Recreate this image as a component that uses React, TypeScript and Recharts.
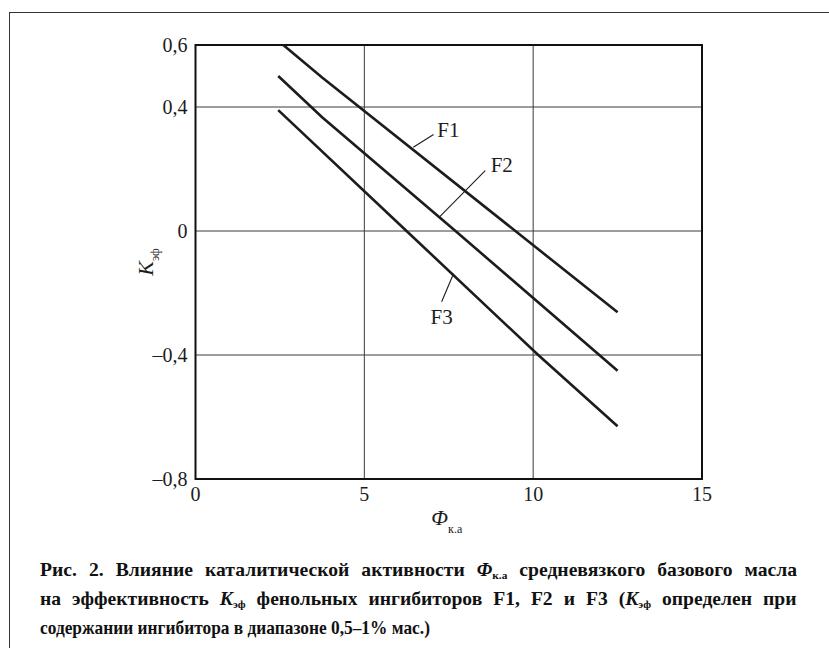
import React, { useLayoutEffect, useRef, useState } from "react";
import {
  LineChart,
  Line,
  XAxis,
  YAxis,
  CartesianGrid,
  ReferenceArea,
  ReferenceLine,
  ReferenceDot,
} from "recharts";

// axis ticks
const xTicks = [0, 5, 10, 15];
const yTicks = [-0.8, -0.4, 0, 0.4, 0.6];

// curves (Ф к.а -> K эф)
const f1 = [
  { x: 2.6, y: 0.6 },
  { x: 3.75, y: 0.495 },
  { x: 12.5, y: -0.262 },
];
const f2 = [
  { x: 2.45, y: 0.5 },
  { x: 3.75, y: 0.367 },
  { x: 7.7, y: 0 },
  { x: 12.5, y: -0.451 },
];
const f3 = [
  { x: 2.45, y: 0.39 },
  { x: 6.25, y: 0 },
  { x: 10.15, y: -0.4 },
  { x: 12.5, y: -0.63 },
];

const seriesNames = ["F1", "F2", "F3"];
const seriesData = [f1, f2, f3];

// curve labels and their leader lines
const labelPos = [
  { x: 7.49, y: 0.327 },
  { x: 9.07, y: 0.214 },
  { x: 7.29, y: -0.277 },
];
const leaders = [
  [{ x: 6.45, y: 0.27 }, { x: 7.05, y: 0.311 }],
  [{ x: 7.22, y: 0.045 }, { x: 8.58, y: 0.195 }],
  [{ x: 7.64, y: -0.138 }, { x: 7.29, y: -0.228 }],
];

const serif = "'Liberation Serif', 'Times New Roman', serif";
const ink = "#1c1c1c";

const fmt = (v: number) => {
  const s = Math.abs(v) < 1e-9 ? "0" : Math.abs(v).toFixed(1).replace(".", ",");
  return v < -1e-9 ? "\u2013" + s : s;
};

function XTitle(props: any) {
  const vb = props.viewBox || {};
  const cx = vb.x + vb.width / 2 - 2;
  return (
    <text x={cx} y={525} fontFamily={serif} fill={ink} textAnchor="middle">
      <tspan fontStyle="italic" fontSize={22}>Φ</tspan>
      <tspan fontSize={12} dy={8}>к.а</tspan>
    </text>
  );
}

function YTitle(props: any) {
  const vb = props.viewBox || {};
  const x = 153;
  const y = vb.y + vb.height / 2;
  return (
    <text
      x={x}
      y={y}
      transform={`rotate(-90, ${x}, ${y})`}
      fontFamily={serif}
      fill={ink}
      textAnchor="middle"
    >
      <tspan fontStyle="italic" fontSize={22}>K</tspan>
      <tspan fontSize={12} dy={6}>эф</tspan>
    </text>
  );
}

const Sub = ({ main, sub }: { main: string; sub: string }) => (
  <span>
    <i>{main}</i>
    <sub style={{ fontSize: 11, verticalAlign: "-3px" }}>{sub}</sub>
  </span>
);

const CAPTION_W = 757;

// the caption is set in a condensed face; squeeze each line and spread the words
function Caption() {
  const refs = [useRef<HTMLSpanElement>(null), useRef<HTMLSpanElement>(null), useRef<HTMLSpanElement>(null)];
  const [fit, setFit] = useState([
    { s: 1, ws: 0 },
    { s: 1, ws: 0 },
    { s: 1, ws: 0 },
  ]);
  useLayoutEffect(() => {
    const w = refs.map((r) => (r.current ? r.current.offsetWidth : 600));
    const s1 = 700 / w[0];
    const s2 = 690 / w[1];
    const s3 = 390 / w[2];
    setFit([
      { s: s1, ws: (CAPTION_W / s1 - w[0]) / 8 },
      { s: s2, ws: (CAPTION_W / s2 - w[1]) / 11 },
      { s: s3, ws: 0 },
    ]);
  }, []);
  const st = (i: number): React.CSSProperties => ({
    display: "inline-block",
    transform: `scaleX(${fit[i].s})`,
    transformOrigin: "0 0",
    wordSpacing: fit[i].ws,
  });
  return (
    <div
      style={{
        position: "absolute",
        left: 40,
        top: 558,
        fontFamily: serif,
        fontWeight: "bold",
        fontSize: 19,
        lineHeight: "24px",
        color: "#111",
        whiteSpace: "nowrap",
      }}
    >
      <div>
        <span ref={refs[0]} style={st(0)}>
          Рис. 2. Влияние каталитической активности <Sub main="Φ" sub="к.а" /> средневязкого базового масла
        </span>
      </div>
      <div>
        <span ref={refs[1]} style={st(1)}>
          на эффективность <Sub main="K" sub="эф" /> фенольных ингибиторов F1, F2 и F3 (<Sub main="K" sub="эф" /> определен при
        </span>
      </div>
      <div>
        <span ref={refs[2]} style={st(2)}>
          содержании ингибитора в диапазоне 0,5–1% мас.)
        </span>
      </div>
    </div>
  );
}

export default function App() {
  return (
    <div
      style={{
        position: "fixed",
        left: 0,
        top: 0,
        width: 829,
        height: 648,
        background: "#fff",
        overflow: "hidden",
      }}
    >
      <div
        style={{
          position: "absolute",
          left: 9,
          top: 12,
          width: 840,
          height: 660,
          borderLeft: "1.5px solid #333",
          borderTop: "1.5px solid #333",
        }}
      />
      <div style={{ position: "absolute", left: 0, top: 0 }}>
        <LineChart
          width={829}
          height={648}
          margin={{ top: 45, right: 127, left: 135.5, bottom: 139 }}
        >
          <CartesianGrid stroke="#3a3a3a" strokeWidth={1} />
          <XAxis
            dataKey="x"
            type="number"
            domain={[0, 15]}
            ticks={xTicks}
            axisLine={false}
            tickLine={false}
            height={30}
            tick={{ fontFamily: serif, fontSize: 20, fill: ink }}
            allowDuplicatedCategory={false}
            label={<XTitle />}
          />
          <YAxis
            type="number"
            domain={[-0.8, 0.6]}
            ticks={yTicks}
            axisLine={false}
            tickLine={false}
            width={60}
            tickFormatter={fmt}
            tick={{ fontFamily: serif, fontSize: 20, fill: ink }}
            label={<YTitle />}
          />
          <ReferenceArea
            x1={0}
            x2={15}
            y1={-0.8}
            y2={0.6}
            fill="none"
            stroke="#111"
            strokeWidth={2}
            ifOverflow="visible"
          />
          {seriesData.map((d, i) => (
            <Line
              key={seriesNames[i]}
              data={d}
              dataKey="y"
              name={seriesNames[i]}
              type="linear"
              stroke={ink}
              strokeWidth={2.6}
              dot={false}
              activeDot={false}
              isAnimationActive={false}
            />
          ))}
          {leaders.map((seg, i) => (
            <ReferenceLine
              key={"l" + i}
              segment={seg}
              stroke={ink}
              strokeWidth={1.1}
              ifOverflow="visible"
            />
          ))}
          {labelPos.map((p, i) => (
            <ReferenceDot
              key={"t" + i}
              x={p.x}
              y={p.y}
              r={0}
              ifOverflow="visible"
              shape={(sp: any) => (
                <text
                  x={sp.cx}
                  y={sp.cy}
                  textAnchor="middle"
                  dominantBaseline="central"
                  fontFamily={serif}
                  fontSize={21}
                  fill={ink}
                >
                  {seriesNames[i]}
                </text>
              )}
            />
          ))}
        </LineChart>
      </div>
      <Caption />
    </div>
  );
}
